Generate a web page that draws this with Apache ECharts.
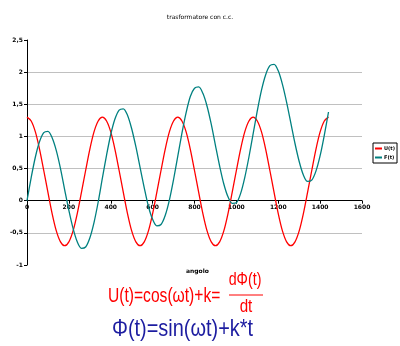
<!DOCTYPE html>
<html><head><meta charset="utf-8">
<script src="https://cdn.jsdelivr.net/npm/echarts@6/dist/echarts.min.js"></script>
<style>html,body{margin:0;padding:0;background:#fff}#c{width:400px;height:346px}</style>
</head><body><div id="c"></div>
<script>
var titleText = "trasformatore con c.c.";
var xName = "angolo";
var yName = "ampiezza, flusso";
var seriesNames = ["U(t)", "F(t)"];
var angles = [0,20,40,60,80,100,120,140,160,180,200,220,240,260,280,300,320,340,
  360,380,400,420,440,460,480,500,520,540,560,580,600,620,640,660,680,700,
  720,740,760,780,800,820,840,860,880,900,920,940,960,980,1000,1020,1040,1060,
  1080,1100,1120,1140,1160,1180,1200,1220,1240,1260,1280,1300,1320,1340,1360,1380,1400,1420,1440];
var uValues = [1.30,1.24,1.07,0.80,0.47,0.13,-0.20,-0.47,-0.64,-0.70,-0.64,-0.47,-0.20,0.13,0.47,0.80,1.07,1.24,
  1.30,1.24,1.07,0.80,0.47,0.13,-0.20,-0.47,-0.64,-0.70,-0.64,-0.47,-0.20,0.13,0.47,0.80,1.07,1.24,
  1.30,1.24,1.07,0.80,0.47,0.13,-0.20,-0.47,-0.64,-0.70,-0.64,-0.47,-0.20,0.13,0.47,0.80,1.07,1.24,
  1.30,1.24,1.07,0.80,0.47,0.13,-0.20,-0.47,-0.64,-0.70,-0.64,-0.47,-0.20,0.13,0.47,0.80,1.07,1.24,1.30];
var fValues = [0.00,0.36,0.68,0.92,1.06,1.08,0.98,0.78,0.50,0.17,-0.15,-0.43,-0.64,-0.74,-0.72,-0.58,-0.34,-0.02,
  0.35,0.71,1.03,1.27,1.41,1.43,1.33,1.12,0.84,0.52,0.20,-0.09,-0.29,-0.39,-0.37,-0.23,0.01,0.33,
  0.69,1.05,1.37,1.62,1.75,1.77,1.67,1.47,1.19,0.86,0.54,0.26,0.06,-0.04,-0.03,0.11,0.36,0.68,
  1.04,1.40,1.72,1.96,2.10,2.12,2.02,1.81,1.53,1.21,0.89,0.61,0.40,0.30,0.32,0.46,0.70,1.02,1.38];
var formulaU = "U(t)=cos(ωt)+k=";
var fracNum = "dΦ(t)";
var fracDen = "dt";
var formulaF = "Φ(t)=sin(ωt)+k*t";

function pairs(xs, ys){ return xs.map(function(x,i){ return [x, ys[i]]; }); }

var chart = echarts.init(document.getElementById('c'), null, {renderer:'canvas'});
var smallFont = {fontSize:6, fontFamily:'DejaVu Sans', fontWeight:'bold', color:'#000'};
var gridTop = 40, gridBottom = 81, yMin = -1, yMax = 2.5;
var plotH = 346 - gridTop - gridBottom;
var zeroOffset = -plotH * (0 - yMin) / (yMax - yMin);
chart.setOption({
  animation:false,
  backgroundColor:'#fff',
  title:{text:titleText, left:'center', top:9, textStyle:{fontSize:6, fontFamily:'DejaVu Sans', fontWeight:'normal', color:'#000'}},
  grid:{left:27, right:38, top:gridTop, bottom:gridBottom, containLabel:false, outerBoundsMode:'none'},
  legend:{
    orient:'vertical', left:373, top:143,
    borderColor:'#000', borderWidth:1, padding:[3,2,3,2], itemGap:4,
    itemWidth:7, itemHeight:2, icon:'rect',
    textStyle:{fontSize:5, fontFamily:'DejaVu Sans', fontWeight:'bold', color:'#000', padding:[0,0,0,-3]},
    data:seriesNames
  },
  xAxis:{
    type:'value', min:0, max:1600, interval:200, position:'bottom', offset:zeroOffset,
    axisLine:{onZero:false, lineStyle:{color:'#000', width:1}},
    axisTick:{show:true, length:3, lineStyle:{color:'#000'}},
    axisLabel:Object.assign({margin:4, formatter:function(v){return String(v);}}, smallFont),
    splitLine:{show:false}
  },
  yAxis:{
    type:'value', min:yMin, max:yMax, interval:0.5,
    name:yName, nameLocation:'middle', nameGap:15, nameRotate:90,
    nameTextStyle:smallFont,
    axisLine:{show:true, onZero:false, lineStyle:{color:'#000', width:1}},
    axisTick:{show:true, length:3, lineStyle:{color:'#000'}},
    axisLabel:Object.assign({margin:4, formatter:function(v){return String(v).replace('.',',');}}, smallFont),
    splitLine:{show:true, showMinLine:false, showMaxLine:false, lineStyle:{color:'#c0c0c0', width:1}}
  },
  series:[
    {name:seriesNames[0], type:'line', data:pairs(angles,uValues), smooth:0.3, symbol:'none',
     lineStyle:{color:'#ff0000', width:1.3}, itemStyle:{color:'#ff0000'}},
    {name:seriesNames[1], type:'line', data:pairs(angles,fValues), smooth:0.3, symbol:'none',
     lineStyle:{color:'#008080', width:1.3}, itemStyle:{color:'#008080'}}
  ],
  graphic:[
    {type:'text', left:186, top:268, style:{text:xName, font:'bold 6px "DejaVu Sans"', fill:'#000'}},
    {type:'text', x:108, y:296, scaleX:0.78, style:{text:formulaU, font:'20px "Liberation Sans"', fill:'#ff0000', verticalAlign:'middle', align:'left'}},
    {type:'text', x:245, y:280, scaleX:0.75, style:{text:fracNum, font:'19px "Liberation Sans"', fill:'#ff0000', verticalAlign:'middle', align:'center'}},
    {type:'line', shape:{x1:229, y1:295, x2:263, y2:295}, style:{stroke:'#ff0000', lineWidth:1}},
    {type:'text', x:246, y:307, scaleX:0.8, style:{text:fracDen, font:'19px "Liberation Sans"', fill:'#ff0000', verticalAlign:'middle', align:'center'}},
    {type:'text', x:112, y:329, scaleX:0.83, style:{text:formulaF, font:'24px "Liberation Sans"', fill:'#1c1ca0', verticalAlign:'middle', align:'left'}}
  ]
});
</script></body></html>
